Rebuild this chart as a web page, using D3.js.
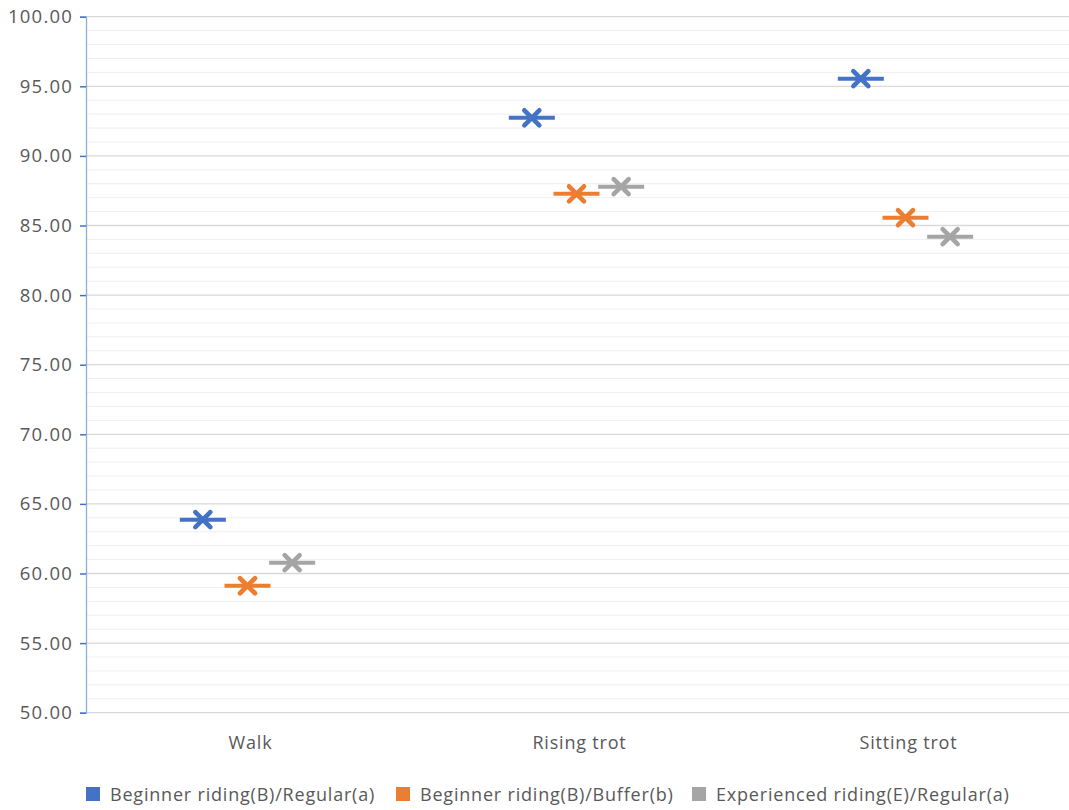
<!DOCTYPE html>
<html><head><meta charset="utf-8">
<script src="https://d3js.org/d3.v7.min.js"></script>
<style>body{margin:0;background:#fff;} text{font-family:"Open Sans","Noto Sans",sans-serif;}</style>
</head><body>
<svg id="c" width="1069" height="810"></svg>
<script>
const categories = ["Walk", "Rising trot", "Sitting trot"];
const seriesNames = ["Beginner riding(B)/Regular(a)", "Beginner riding(B)/Buffer(b)", "Experienced riding(E)/Regular(a)"];
const seriesColors = ["#4472C4", "#ED7D31", "#A5A5A5"];
const beginnerRegular = [63.87, 92.74, 95.55];
const beginnerBuffer = [59.12, 87.28, 85.56];
const experiencedRegular = [60.78, 87.79, 84.20];
const yTicks = [50, 55, 60, 65, 70, 75, 80, 85, 90, 95, 100];
const seriesValues = [beginnerRegular, beginnerBuffer, experiencedRegular];

(function(){
const svg = d3.select("#c");
const pLeft = 86, pRight = 1073, pTop = 16.7, pBottom = 712.7;
const y = d3.scaleLinear().domain([50, 100]).range([pBottom, pTop]);
const x = d3.scaleBand().domain(categories).range([pLeft, pRight]);
const xs = d3.scaleBand().domain(d3.range(seriesNames.length)).range([0, 134]);

// minor grid
const minor = d3.range(50, 100.01, 1).filter(v => v % 5 !== 0);
svg.append("g").selectAll("line").data(minor).join("line")
  .attr("x1", pLeft).attr("x2", 1069).attr("y1", d => y(d)).attr("y2", d => y(d))
  .attr("stroke", "#efefef").attr("stroke-width", 1);
// major grid
svg.append("g").selectAll("line").data(yTicks).join("line")
  .attr("x1", pLeft).attr("x2", 1069).attr("y1", d => y(d)).attr("y2", d => y(d))
  .attr("stroke", "#d9d9d9").attr("stroke-width", 1.3);

// y axis
const yAxis = d3.axisLeft(y).tickValues(yTicks).tickFormat(d3.format(".2f")).tickSize(6).tickPadding(8);
const ga = svg.append("g").attr("transform", `translate(${pLeft},0)`).call(yAxis);
ga.select(".domain").attr("stroke", "#8eaadb").attr("stroke-width", 1.3);
ga.selectAll(".tick line").attr("stroke", "#4472C4").attr("stroke-width", 1.5);
ga.selectAll(".tick text").attr("fill", "#595959").style("font-size", "18.5px").style("letter-spacing", "1.2px").attr("x", -13);

// x labels
const xAxis = d3.axisBottom(x).tickSize(0).tickPadding(24);
const gx = svg.append("g").attr("transform", `translate(0,${pBottom})`).call(xAxis);
gx.select(".domain").remove();
gx.selectAll(".tick text").attr("fill", "#595959").style("font-size", "18px").style("letter-spacing", "0.8px");

// markers
seriesValues.forEach((vals, si) => {
  const g = svg.append("g");
  const pts = vals.map((v, i) => ({cx: x(categories[i]) + x.bandwidth()/2 - 67 + xs(si) + xs.bandwidth()/2 - 3, cy: y(v)}));
  g.selectAll("line.dash").data(pts).join("line").attr("class", "dash")
    .attr("x1", d => d.cx - 23).attr("x2", d => d.cx + 23).attr("y1", d => d.cy).attr("y2", d => d.cy)
    .attr("stroke", seriesColors[si]).attr("stroke-width", 4);
  const s = 7.5;
  g.selectAll("path.x").data(pts).join("path").attr("class", "x")
    .attr("d", d => `M${d.cx - s},${d.cy - s}L${d.cx + s},${d.cy + s}M${d.cx - s},${d.cy + s}L${d.cx + s},${d.cy - s}`)
    .attr("stroke", seriesColors[si]).attr("stroke-width", 4.6).attr("stroke-linecap", "round");
});

// legend
const legX = [86, 396, 692];
const leg = svg.append("g");
seriesNames.forEach((n, i) => {
  leg.append("rect").attr("x", legX[i]).attr("y", 787).attr("width", 14).attr("height", 14).attr("fill", seriesColors[i]);
  leg.append("text").attr("x", legX[i] + 24).attr("y", 801).attr("fill", "#595959").style("font-size", "18px").style("letter-spacing", "0.8px").text(n);
});
})();
</script>
</body></html>
